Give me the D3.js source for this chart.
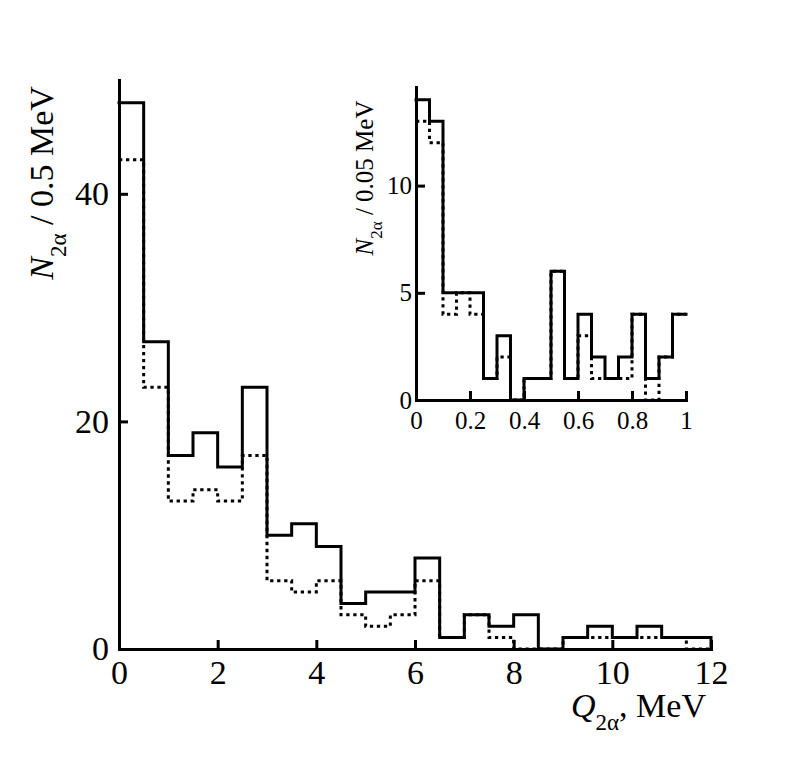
<!DOCTYPE html>
<html><head><meta charset="utf-8">
<script src="https://cdn.jsdelivr.net/npm/d3@7"></script>
<style>
body{margin:0;background:#fff;}
svg text{font-family:"Liberation Serif","Tinos","Times New Roman","Nimbus Roman","DejaVu Serif",serif !important;fill:#000;}
</style></head>
<body><svg id="c" width="788" height="764"></svg>
<script>
// ---- data ----
const mainBinStarts = [0,0.5,1,1.5,2,2.5,3,3.5,4,4.5,5,5.5,6,6.5,7,7.5,8,8.5,9,9.5,10,10.5,11,11.5];
const mainBinWidth = 0.5;
const mainSolid  = [48,27,17,19,16,23,10,11,9,4,5,5,8,1,3,2,3,0,1,2,1,2,1,1];
const mainDotted = [43,23,13,14,13,17,6,5,6,3,2,3,6,1,3,1,0,0,1,1,1,1,1,0];
const mainXTicks = [0,2,4,6,8,10,12];
const mainYTicks = [0,20,40];

const insetBinStarts = [0,0.05,0.1,0.15,0.2,0.25,0.3,0.35,0.4,0.45,0.5,0.55,0.6,0.65,0.7,0.75,0.8,0.85,0.9,0.95];
const insetBinWidth = 0.05;
const insetSolid  = [14,13,5,5,5,1,3,0,1,1,6,1,4,2,1,2,4,1,2,4];
const insetDotted = [13,12,4,5,4,1,2,0,1,1,6,1,3,1,1,1,4,0,2,4];
const insetXTicks = [0,0.2,0.4,0.6,0.8,1];
const insetXTickLabels = ["0","0.2","0.4","0.6","0.8","1"];
const insetYTicks = [0,5,10];

const FONT = '"Liberation Serif","Tinos","Times New Roman","Nimbus Roman","DejaVu Serif",serif';
const svg = d3.select("#c");

function stepPoints(starts, w, vals, close){
  const pts = [];
  starts.forEach((s,i)=>{ pts.push([s, vals[i]]); pts.push([s+w, vals[i]]); });
  if(close) pts.push([starts[starts.length-1]+w, 0]);
  return pts;
}

function drawPanel(o){
  const x = d3.scaleLinear().domain(o.xDomain).range(o.xRange);
  const y = d3.scaleLinear().domain(o.yDomain).range(o.yRange);
  const g = svg.append("g");
  const line = d3.line().x(d=>x(d[0])).y(d=>y(d[1]));
  g.append("path").attr("d", line(stepPoints(o.starts,o.w,o.dotted,o.close)))
    .attr("fill","none").attr("stroke","#000").attr("stroke-width",3)
    .attr("stroke-dasharray","3.3,3.7").attr("stroke-linejoin","miter");
  g.append("path").attr("d", line(stepPoints(o.starts,o.w,o.solid,o.close)))
    .attr("fill","none").attr("stroke","#000").attr("stroke-width",3)
    .attr("stroke-linejoin","miter").attr("stroke-linecap","square");
  const xa = d3.axisBottom(x).tickValues(o.xTicks).tickSizeInner(-o.tick).tickSizeOuter(0)
    .tickPadding(o.xPad).tickFormat((d,i)=>o.xLabels ? o.xLabels[i] : d3.format("d")(d));
  const ya = d3.axisLeft(y).tickValues(o.yTicks).tickSizeInner(-o.tick).tickSizeOuter(0)
    .tickPadding(o.yPad).tickFormat(d3.format("d"));
  const gx = g.append("g").attr("transform",`translate(0,${o.yRange[0]})`).call(xa);
  const gy = g.append("g").attr("transform",`translate(${o.xRange[0]},0)`).call(ya);
  [gx,gy].forEach(a=>{
    a.attr("font-family",FONT).attr("font-size",o.fs);
    a.select(".domain").attr("stroke","#000").attr("stroke-width",3).attr("stroke-linecap","square");
    a.selectAll(".tick line").attr("stroke","#000").attr("stroke-width",3);
    a.selectAll(".tick text").attr("font-family",FONT).attr("font-size",o.fs).attr("fill","#000");
  });
  return {x,y};
}

drawPanel({
  xDomain:[0,12], xRange:[119,711], yDomain:[0,50], yRange:[649,80],
  starts:mainBinStarts, w:mainBinWidth, solid:mainSolid, dotted:mainDotted, close:true,
  xTicks:mainXTicks, yTicks:mainYTicks, tick:9, fs:34, xPad:11, yPad:10
});
drawPanel({
  xDomain:[0,1], xRange:[416,686], yDomain:[0,14.6], yRange:[400,87],
  starts:insetBinStarts, w:insetBinWidth, solid:insetSolid, dotted:insetDotted, close:false,
  xTicks:insetXTicks, xLabels:insetXTickLabels, yTicks:insetYTicks, tick:9, fs:25, xPad:11, yPad:4
});

function subLabel(gx, gy, rot, anchor, fs, sfs, shift, main, sub, rest){
  const t = svg.append("text").attr("transform",`translate(${gx},${gy}) rotate(${rot})`)
    .attr("text-anchor",anchor).attr("font-size",fs).attr("font-family",FONT);
  t.append("tspan").attr("font-style","italic").text(main);
  t.append("tspan").attr("font-size",sfs).attr("dy",shift).text(sub);
  t.append("tspan").attr("dy",-shift).text(rest);
}
subLabel(53,183,-90,"middle",34,23,13,"N","2α"," / 0.5 MeV");
subLabel(373,178,-90,"middle",25,17,9,"N","2α"," / 0.05 MeV");
subLabel(706,717,0,"end",34,23,13,"Q","2α",", MeV");
</script></body></html>
